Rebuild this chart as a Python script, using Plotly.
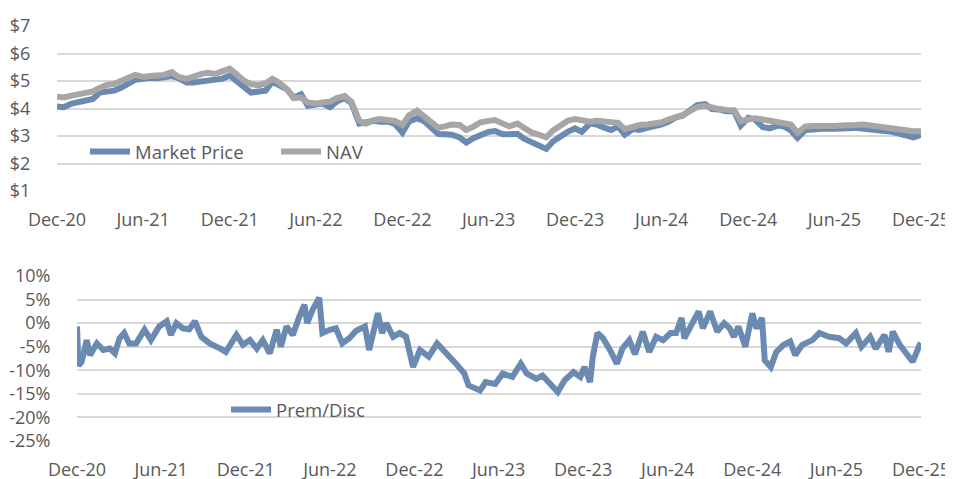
import pandas as pd
import plotly.graph_objects as go

# ---- Data ----
price_dates = pd.date_range(start="2020-12-01", periods=121, freq="SMS")

market_price = [
    4.07, 4.05, 4.18, 4.25, 4.28, 4.35, 4.58, 4.62, 4.65, 4.75,
    4.92, 5.04, 5.08, 5.12, 5.10, 5.15, 5.18, 5.10, 4.95, 4.95,
    4.97, 4.98, 5.05, 5.08, 5.20, 5.00, 4.78, 4.58, 4.62, 4.65,
    4.98, 4.88, 4.70, 4.40, 4.52, 4.10, 4.12, 4.18, 4.05, 4.25,
    4.38, 4.20, 3.45, 3.48, 3.55, 3.52, 3.52, 3.44, 3.12, 3.53,
    3.65, 3.55, 3.28, 3.07, 3.06, 3.05, 2.95, 2.76, 2.93, 3.05,
    3.15, 3.18, 3.06, 3.06, 3.08, 2.90, 2.77, 2.66, 2.53, 2.80,
    3.02, 3.15, 3.28, 3.15, 3.45, 3.42, 3.30, 3.22, 3.34, 3.05,
    3.25, 3.22, 3.30, 3.33, 3.42, 3.52, 3.68, 3.74, 3.97, 4.12,
    4.16, 3.98, 3.96, 3.90, 3.90, 3.38, 3.66, 3.60, 3.32, 3.28,
    3.38, 3.34, 3.20, 2.93, 3.22, 3.25, 3.26, 3.27, 3.26, 3.25,
    3.28, 3.30, 3.28, 3.25, 3.22, 3.18, 3.15, 3.08, 3.00, 2.95,
    3.04,
]

nav = [
    4.43, 4.40, 4.47, 4.52, 4.55, 4.62, 4.75, 4.85, 4.90, 4.98,
    5.12, 5.22, 5.15, 5.18, 5.20, 5.22, 5.32, 5.15, 5.08, 5.18,
    5.25, 5.30, 5.26, 5.35, 5.45, 5.25, 5.00, 4.88, 4.85, 4.92,
    5.08, 4.95, 4.70, 4.38, 4.40, 4.22, 4.18, 4.22, 4.25, 4.38,
    4.45, 4.25, 3.55, 3.45, 3.58, 3.62, 3.60, 3.55, 3.40, 3.75,
    3.92, 3.72, 3.50, 3.30, 3.35, 3.42, 3.40, 3.22, 3.35, 3.50,
    3.55, 3.58, 3.45, 3.35, 3.45, 3.28, 3.12, 3.05, 2.95, 3.20,
    3.38, 3.55, 3.62, 3.58, 3.52, 3.55, 3.52, 3.50, 3.48, 3.25,
    3.35, 3.40, 3.42, 3.46, 3.50, 3.60, 3.68, 3.76, 3.92, 4.05,
    4.10, 4.02, 3.98, 3.95, 3.94, 3.55, 3.62, 3.64, 3.60, 3.57,
    3.53, 3.48, 3.42, 3.12, 3.35, 3.36, 3.35, 3.37, 3.36, 3.38,
    3.37, 3.40, 3.42, 3.38, 3.35, 3.32, 3.25, 3.22, 3.20, 3.17,
    3.17,
]

prem_dates = [
    "2020-12-01", "2020-12-04", "2020-12-11", "2020-12-22", "2020-12-29",
    "2021-01-13", "2021-01-27", "2021-02-10", "2021-02-21", "2021-03-03",
    "2021-03-13", "2021-03-24", "2021-04-08", "2021-04-26", "2021-05-10",
    "2021-05-28", "2021-06-13", "2021-06-22", "2021-07-04", "2021-07-18",
    "2021-08-01", "2021-08-13", "2021-08-27", "2021-09-14", "2021-10-07",
    "2021-10-19", "2021-11-11", "2021-11-25", "2021-12-10", "2021-12-25",
    "2022-01-07", "2022-01-22", "2022-02-06", "2022-02-15", "2022-02-27",
    "2022-03-13", "2022-03-27", "2022-04-07", "2022-04-13", "2022-04-25",
    "2022-05-09", "2022-05-16", "2022-06-01", "2022-06-14", "2022-06-28",
    "2022-07-13", "2022-07-28", "2022-08-16", "2022-08-25", "2022-09-07",
    "2022-09-13", "2022-09-22", "2022-10-01", "2022-10-16", "2022-10-30",
    "2022-11-13", "2022-11-28", "2022-12-13", "2023-01-01", "2023-01-19",
    "2023-02-09", "2023-03-01", "2023-03-19", "2023-03-28", "2023-04-22",
    "2023-05-04", "2023-05-25", "2023-06-10", "2023-07-01", "2023-07-19",
    "2023-08-01", "2023-08-22", "2023-09-04", "2023-09-19", "2023-10-07",
    "2023-10-22", "2023-11-10", "2023-11-25", "2023-12-04", "2023-12-16",
    "2023-12-22", "2024-01-01", "2024-01-13", "2024-01-28", "2024-02-12",
    "2024-02-24", "2024-03-10", "2024-03-22", "2024-04-08", "2024-04-22",
    "2024-05-07", "2024-05-22", "2024-06-07", "2024-06-19", "2024-07-01",
    "2024-07-07", "2024-07-25", "2024-08-07", "2024-08-16", "2024-09-01",
    "2024-09-16", "2024-10-01", "2024-10-13", "2024-10-22", "2024-11-01",
    "2024-11-16", "2024-12-01", "2024-12-10", "2024-12-22", "2024-12-28",
    "2025-01-10", "2025-01-22", "2025-02-07", "2025-02-21", "2025-03-04",
    "2025-03-19", "2025-04-10", "2025-04-25", "2025-05-16", "2025-06-07",
    "2025-06-22", "2025-07-13", "2025-07-25", "2025-08-13", "2025-08-25",
    "2025-09-13", "2025-09-22", "2025-10-01", "2025-10-16", "2025-11-01",
    "2025-11-13", "2025-11-28", "2025-12-01",
]

prem_disc = [
    -0.7, -9.0, -8.2, -3.6, -6.8,
    -4.3, -5.7, -5.4, -6.4, -3.2,
    -2.1, -4.3, -4.3, -1.4, -3.6,
    -0.7, 0.4, -2.5, 0.0, -1.1,
    -1.3, 0.4, -2.9, -4.3, -5.4,
    -6.1, -2.5, -4.6, -3.6, -5.4,
    -3.6, -6.4, -1.4, -5.0, -0.7,
    -2.5, 1.4, 3.9, 0.0, 2.9,
    5.4, -2.1, -1.4, -1.1, -4.3,
    -3.2, -1.6, -0.7, -5.7, 0.7,
    2.1, -2.1, 0.0, -2.9, -2.1,
    -2.9, -9.3, -5.7, -7.1, -4.3,
    -6.4, -8.6, -10.7, -13.2, -14.3,
    -12.5, -12.9, -10.7, -11.4, -8.6,
    -10.7, -11.8, -11.1, -12.9, -14.6,
    -12.1, -10.4, -11.4, -9.3, -12.5,
    -7.1, -2.1, -3.2, -5.7, -8.6,
    -5.4, -3.6, -6.6, -1.8, -6.1,
    -2.9, -3.6, -2.1, -2.1, 1.1,
    -3.2, 0.0, 2.5, -1.1, 2.5,
    -1.8, 0.0, -1.1, -2.9, -0.7,
    -5.0, 2.1, -1.1, 1.1, -7.9,
    -9.3, -6.1, -4.6, -3.9, -6.8,
    -4.6, -3.6, -2.1, -2.9, -3.2,
    -4.3, -2.1, -5.0, -2.9, -5.4,
    -2.5, -6.1, -1.8, -4.6, -6.4,
    -8.2, -4.6, -4.3,
]

price_ticks = [1, 2, 3, 4, 5, 6, 7]
price_tick_labels = ["$1", "$2", "$3", "$4", "$5", "$6", "$7"]
pct_ticks = [-25, -20, -15, -10, -5, 0, 5, 10]
pct_tick_labels = ["-25%", "-20%", "-15%", "-10%", "-5%", "0%", "5%", "10%"]

# ---- Styles ----
BLUE = "#6a8ab2"
GRAY = "#a6a6a6"
GRID = "#d9d9d9"
TEXT = "#595959"
FONT = "Open Sans"
OFF = 8            # page body margin in the browser
W, H = 953, 479    # figure size (the page offset pushes the rest past the window)


def px_x(v):
    return (v - OFF) / W


def px_y(v):
    return 1 - (v - OFF) / H


fig = go.Figure()

fig.add_trace(go.Scatter(
    x=price_dates, y=market_price, name="Market Price", mode="lines",
    line=dict(color=BLUE, width=6), xaxis="x", yaxis="y", legend="legend",
))
fig.add_trace(go.Scatter(
    x=price_dates, y=nav, name="NAV", mode="lines",
    line=dict(color=GRAY, width=6), xaxis="x", yaxis="y", legend="legend",
))
fig.add_trace(go.Scatter(
    x=prem_dates, y=prem_disc, name="Prem/Disc", mode="lines",
    line=dict(color=BLUE, width=6), xaxis="x2", yaxis="y2", legend="legend2",
))

xcommon = dict(
    type="date", range=["2020-12-01", "2025-12-01"],
    tick0="2020-12-01", dtick="M6", tickformat="%b-%y",
    showgrid=False, zeroline=False, showline=False, automargin=False,
    ticks="outside", ticklen=12, tickcolor="rgba(0,0,0,0)",
    tickfont=dict(family=FONT, size=18, color=TEXT),
)
ycommon = dict(
    showgrid=True, gridcolor=GRID, gridwidth=2, zeroline=False, showline=False,
    automargin=False,
    ticks="outside", ticklen=22, tickcolor="rgba(0,0,0,0)",
    tickfont=dict(family=FONT, size=18, color=TEXT),
)

fig.update_layout(
    width=W, height=H,
    margin=dict(l=0, r=0, t=0, b=0),
    paper_bgcolor="white", plot_bgcolor="white",
    font=dict(family=FONT, size=18, color=TEXT),
    xaxis=dict(domain=[px_x(57), px_x(921)], anchor="y", **xcommon),
    yaxis=dict(domain=[px_y(191), px_y(26)], anchor="x", range=[1, 7],
               tickvals=price_ticks, ticktext=price_tick_labels, **ycommon),
    xaxis2=dict(domain=[px_x(77), px_x(921)], anchor="y2", **xcommon),
    yaxis2=dict(domain=[px_y(441), px_y(276)], anchor="x2", range=[-25, 10],
                tickvals=pct_ticks, ticktext=pct_tick_labels, **ycommon),
    legend=dict(
        orientation="h", x=px_x(85), xanchor="left", y=px_y(152), yanchor="middle",
        bgcolor="rgba(0,0,0,0)", font=dict(family=FONT, size=18.5, color=TEXT),
        itemwidth=40, entrywidth=136, entrywidthmode="pixels",
    ),
    legend2=dict(
        orientation="h", x=px_x(226), xanchor="left", y=px_y(410), yanchor="middle",
        bgcolor="rgba(0,0,0,0)", font=dict(family=FONT, size=18.5, color=TEXT),
        itemwidth=40,
    ),
    showlegend=True,
)

fig.write_html("out.html")
